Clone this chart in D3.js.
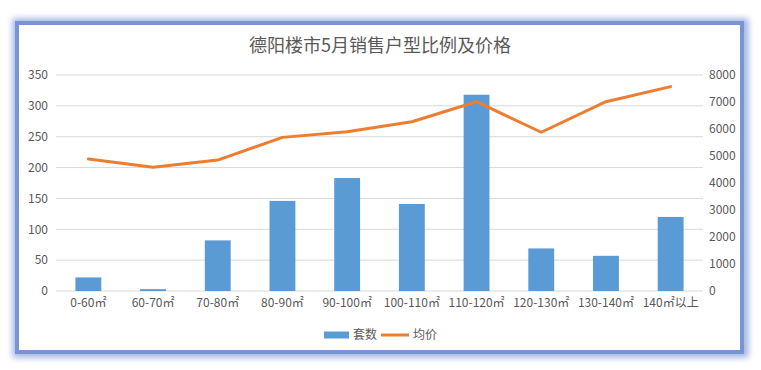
<!DOCTYPE html>
<html>
<head>
    <meta charset="utf-8">
    <title>德阳楼市5月销售户型比例及价格</title>
    <style type="text/css">
    body { margin: 0; background: #fff; }
    svg { display: block; }
    </style>
</head>
<body>
  <script src="https://cdn.jsdelivr.net/npm/d3@7"></script>
  <script>

    // data
    var categories = ["0-60㎡", "60-70㎡", "70-80㎡", "80-90㎡", "90-100㎡",
                      "100-110㎡", "110-120㎡", "120-130㎡", "130-140㎡", "140㎡以上"];
    var units  = [22, 3, 82, 146, 183, 141, 318, 69, 57, 120];          // 套数
    var prices = [4890, 4580, 4850, 5690, 5900, 6270, 7010, 5880, 7010, 7570]; // 均价
    var leftTicks  = [0, 50, 100, 150, 200, 250, 300, 350];
    var rightTicks = [0, 1000, 2000, 3000, 4000, 5000, 6000, 7000, 8000];

    var W = 761, H = 370;
    var margin = {top: 75, right: 58, bottom: 79, left: 56},
        width  = W - margin.left - margin.right,
        height = H - margin.top - margin.bottom;

    var font = "'Microsoft YaHei', 'Noto Sans CJK SC', sans-serif";
    var textColor = "#595959";

    var svg = d3.select("body")
      .append("svg")
      .attr("width", W)
      .attr("height", H);

    // soft blue frame with glow
    var defs = svg.append("defs");
    var blur = defs.append("filter").attr("id", "glow")
      .attr("x", "-5%").attr("y", "-5%").attr("width", "110%").attr("height", "110%");
    blur.append("feGaussianBlur").attr("stdDeviation", 3);

    svg.append("rect")
      .attr("x", 17).attr("y", 23).attr("width", 727).attr("height", 330)
      .attr("fill", "none")
      .attr("stroke", "#9fb3e2")
      .attr("stroke-width", 9)
      .attr("filter", "url(#glow)");
    svg.append("rect")
      .attr("x", 17).attr("y", 23).attr("width", 725).attr("height", 329)
      .attr("fill", "#fff")
      .attr("stroke", "#7895d2")
      .attr("stroke-width", 4);

    var chart = svg.append("g")
      .attr("transform", "translate(" + margin.left + "," + margin.top + ")");

    var x = d3.scaleBand()
      .domain(categories)
      .range([0, width])
      .paddingInner(0.6)
      .paddingOuter(0.3);

    var yLeft = d3.scaleLinear().domain([0, 350]).range([height, 0]);
    var yRight = d3.scaleLinear().domain([0, 8000]).range([height, 0]);

    // gridlines
    chart.append("g")
      .selectAll("line")
      .data(leftTicks)
      .enter()
      .append("line")
      .attr("x1", 0).attr("x2", width)
      .attr("y1", function(d){ return yLeft(d); })
      .attr("y2", function(d){ return yLeft(d); })
      .attr("stroke", "#d9d9d9")
      .attr("stroke-width", 1);

    // bars
    chart.append("g")
      .selectAll("rect")
      .data(units)
      .enter()
      .append("rect")
      .attr("x", function(d, i){ return x(categories[i]); })
      .attr("y", function(d){ return yLeft(d); })
      .attr("width", x.bandwidth())
      .attr("height", function(d){ return height - yLeft(d); })
      .attr("fill", "#5b9bd5");

    // price line
    var line = d3.line()
      .x(function(d, i){ return x(categories[i]) + x.bandwidth() / 2; })
      .y(function(d){ return yRight(d); });

    chart.append("path")
      .datum(prices)
      .attr("d", line)
      .attr("fill", "none")
      .attr("stroke", "#ed7d31")
      .attr("stroke-width", 3)
      .attr("stroke-linejoin", "round")
      .attr("stroke-linecap", "round");

    // axes
    var leftAxis = chart.append("g")
      .call(d3.axisLeft(yLeft).tickValues(leftTicks).tickSize(0).tickPadding(8));
    var rightAxis = chart.append("g")
      .attr("transform", "translate(" + width + ",0)")
      .call(d3.axisRight(yRight).tickValues(rightTicks).tickFormat(d3.format("d"))
        .tickSize(0).tickPadding(6));
    var bottomAxis = chart.append("g")
      .attr("transform", "translate(0," + height + ")")
      .call(d3.axisBottom(x).tickSize(0).tickPadding(7));

    [leftAxis, rightAxis, bottomAxis].forEach(function(a){
      a.select(".domain").remove();
      a.selectAll("text")
        .style("font-family", font)
        .style("font-size", "12px")
        .attr("fill", textColor);
    });

    // title
    svg.append("text")
      .attr("x", 380)
      .attr("y", 52)
      .attr("text-anchor", "middle")
      .style("font-family", font)
      .style("font-size", "18px")
      .attr("fill", textColor)
      .text("德阳楼市5月销售户型比例及价格");

    // legend
    var legend = svg.append("g").attr("transform", "translate(324,335)");
    legend.append("rect")
      .attr("x", 0).attr("y", -3.5)
      .attr("width", 25).attr("height", 7)
      .attr("fill", "#5b9bd5");
    legend.append("text")
      .attr("x", 29).attr("y", 0)
      .attr("dy", "0.35em")
      .style("font-family", font)
      .style("font-size", "12px")
      .attr("fill", textColor)
      .text("套数");
    legend.append("line")
      .attr("x1", 57).attr("x2", 85)
      .attr("y1", 0).attr("y2", 0)
      .attr("stroke", "#ed7d31")
      .attr("stroke-width", 3);
    legend.append("text")
      .attr("x", 89).attr("y", 0)
      .attr("dy", "0.35em")
      .style("font-family", font)
      .style("font-size", "12px")
      .attr("fill", textColor)
      .text("均价");

  </script>
</body>
</html>
